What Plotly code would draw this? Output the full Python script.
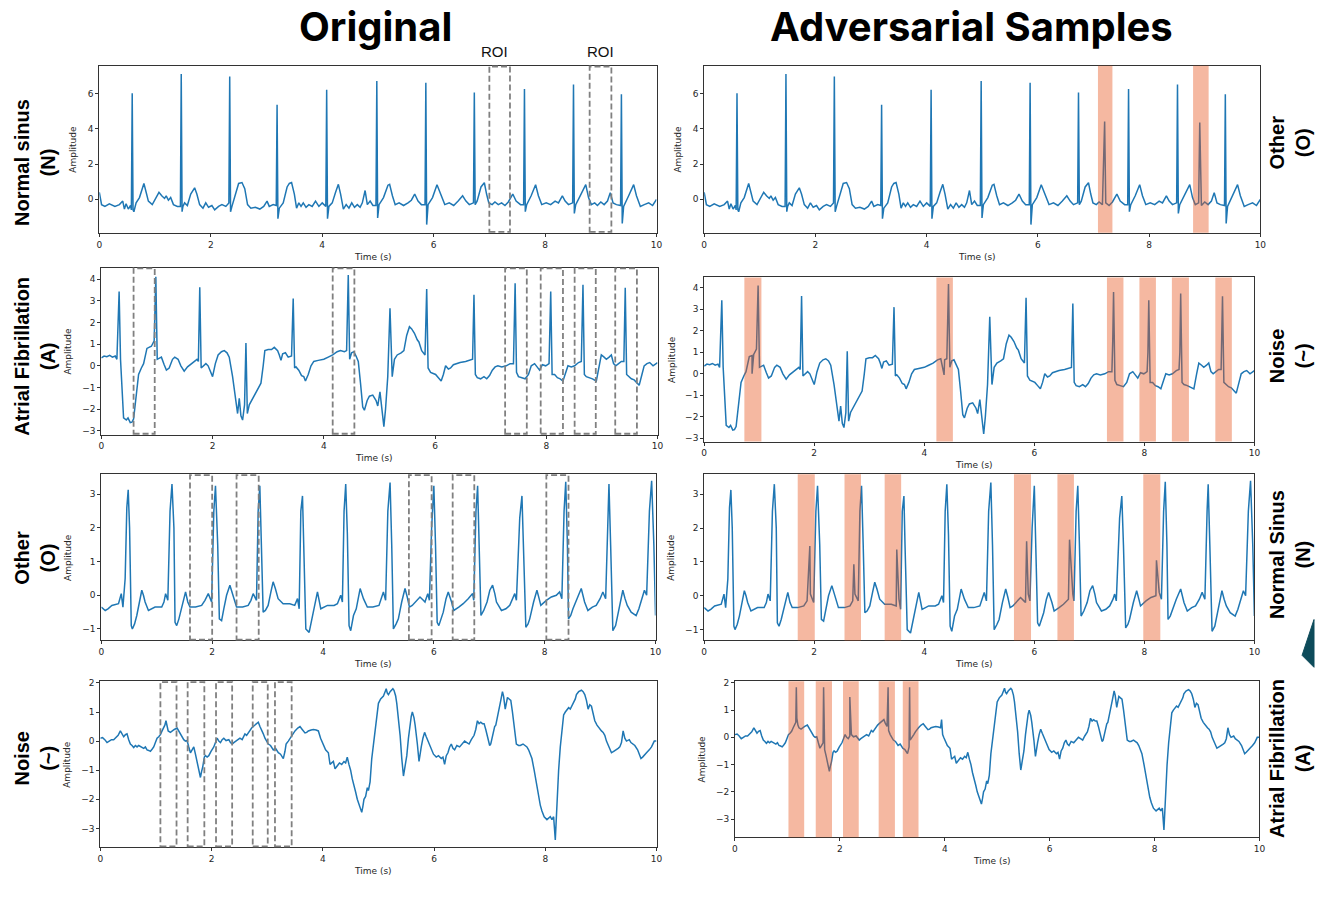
import plotly.graph_objects as go

W, H = 1320, 898

# ---------------- data (time s, amplitude) ----------------
normal_sinus = [
    (0.00, 0.40), (0.04, -0.30), (0.10, -0.40), (0.18, -0.25), (0.28, -0.40), (0.36, -0.30), (0.42, -0.10), (0.45, -0.55),
    (0.48, -0.25), (0.52, -0.55), (0.56, -0.35), (0.575, -0.60), (0.59, 6.0), (0.605, -0.60), (0.62, -0.70), (0.66, -0.20),
    (0.72, 0.10), (0.80, 0.90), (0.84, 0.40), (0.88, -0.10), (0.95, -0.30), (1.02, 0.10), (1.07, 0.40), (1.12, 0.20),
    (1.17, 0.05), (1.20, 0.20), (1.24, -0.05), (1.28, 0.10), (1.33, -0.30), (1.40, -0.40), (1.455, -0.40), (1.47, 7.1),
    (1.485, -0.70), (1.50, -0.40), (1.53, -0.20), (1.58, -0.35), (1.64, 0.30), (1.71, 0.65), (1.75, 0.30), (1.80, -0.30),
    (1.86, -0.50), (1.91, -0.20), (1.96, -0.45), (2.02, -0.35), (2.07, -0.60), (2.14, -0.40), (2.20, -0.30), (2.27, -0.40),
    (2.325, -0.20), (2.34, 6.95), (2.355, -0.70), (2.38, -0.40), (2.44, 0.20), (2.50, 0.90), (2.56, 0.95), (2.61, 0.60),
    (2.66, -0.30), (2.72, -0.50), (2.80, -0.45), (2.88, -0.55), (2.95, -0.40), (3.01, -0.10), (3.05, -0.40), (3.12, -0.30),
    (3.175, -0.35), (3.19, 5.35), (3.205, -1.10), (3.23, -0.50), (3.30, -0.20), (3.37, 0.70), (3.41, 0.90), (3.45, 0.95),
    (3.50, 0.30), (3.54, -0.50), (3.58, -0.20), (3.62, -0.40), (3.66, -0.20), (3.71, -0.45), (3.76, -0.30), (3.82, -0.40),
    (3.88, -0.10), (3.94, -0.40), (4.00, -0.20), (4.065, -0.40), (4.08, 6.2), (4.095, -1.10), (4.12, -0.40), (4.18, -0.20),
    (4.24, 0.40), (4.29, 0.85), (4.33, 0.30), (4.38, -0.55), (4.43, -0.30), (4.48, -0.50), (4.53, -0.20), (4.58, -0.45),
    (4.63, -0.30), (4.68, -0.45), (4.72, -0.20), (4.77, 0.50), (4.81, -0.30), (4.86, -0.10), (4.91, -0.35), (4.965, -0.35),
    (4.98, 6.7), (4.995, -1.05), (5.02, -0.30), (5.10, 0.10), (5.18, 0.80), (5.21, 0.85), (5.26, 0.20), (5.31, -0.30),
    (5.38, -0.20), (5.46, -0.35), (5.54, -0.20), (5.60, -0.05), (5.66, 0.30), (5.72, -0.10), (5.78, -0.30), (5.845, -0.30),
    (5.86, 6.6), (5.875, -1.43), (5.90, -0.30), (5.98, 0.10), (6.06, 0.83), (6.12, 0.30), (6.20, -0.30), (6.28, -0.20),
    (6.36, -0.35), (6.44, -0.10), (6.52, 0.20), (6.58, -0.10), (6.64, -0.30), (6.715, -0.20), (6.73, 6.05), (6.745, -0.30),
    (6.78, -0.10), (6.85, 0.70), (6.91, 0.94), (6.95, 0.30), (6.99, -0.20), (7.05, -0.30), (7.10, -0.15), (7.16, -0.30),
    (7.22, -0.20), (7.28, -0.35), (7.34, -0.15), (7.42, 0.30), (7.48, -0.10), (7.56, -0.30), (7.615, -0.30), (7.63, 6.25),
    (7.645, -0.70), (7.67, -0.30), (7.75, 0.20), (7.83, 0.83), (7.88, 0.20), (7.94, -0.30), (8.02, -0.20), (8.10, -0.30),
    (8.18, -0.10), (8.24, -0.20), (8.31, 0.20), (8.36, -0.10), (8.42, -0.30), (8.495, -0.20), (8.51, 6.5), (8.525, -0.80),
    (8.55, -0.30), (8.63, 0.20), (8.73, 0.83), (8.78, 0.10), (8.83, -0.30), (8.89, -0.20), (8.94, -0.35), (9.00, -0.15),
    (9.06, -0.30), (9.12, -0.10), (9.17, 0.38), (9.22, -0.20), (9.28, -0.30), (9.355, -0.35), (9.37, 5.95), (9.385, -1.37),
    (9.41, -0.40), (9.50, 0.20), (9.59, 0.83), (9.64, 0.20), (9.71, -0.40), (9.78, -0.30), (9.86, -0.20), (9.93, -0.35),
    (10.0, 0.00),
]

atrial_fib = [
    (0.00, 0.36), (0.05, 0.45), (0.10, 0.42), (0.15, 0.48), (0.20, 0.40), (0.25, 0.45), (0.28, 0.30), (0.32, 3.42),
    (0.345, 0.30), (0.37, -1.00), (0.40, -2.40), (0.45, -2.50), (0.48, -2.40), (0.52, -2.62), (0.55, -2.60), (0.58, -2.45),
    (0.61, -1.80), (0.64, -1.00), (0.67, -0.40), (0.72, -0.10), (0.76, 0.10), (0.82, 0.80), (0.87, 0.85), (0.90, 0.90),
    (0.95, 1.15), (0.98, 4.10), (1.005, 0.30), (1.04, 0.35), (1.08, 0.40), (1.13, 0.05), (1.17, -0.20), (1.22, -0.10),
    (1.28, 0.30), (1.32, 0.40), (1.38, 0.30), (1.43, 0.00), (1.49, -0.25), (1.55, -0.05), (1.62, 0.10), (1.68, 0.20),
    (1.72, 0.30), (1.745, 0.20), (1.77, 3.62), (1.795, -0.10), (1.83, 0.00), (1.88, 0.10), (1.92, 0.00), (1.96, -0.30),
    (2.00, -0.50), (2.05, 0.10), (2.10, 0.50), (2.16, 0.65), (2.21, 0.70), (2.26, 0.60), (2.30, 0.40), (2.36, -0.50),
    (2.41, -1.50), (2.45, -2.20), (2.48, -1.50), (2.51, -2.30), (2.54, -2.50), (2.575, -1.80), (2.60, 1.05), (2.625, -2.20),
    (2.66, -1.80), (2.72, -1.50), (2.80, -1.10), (2.87, -0.80), (2.91, 0.00), (2.94, 0.70), (3.00, 0.75), (3.06, 0.75),
    (3.11, 0.85), (3.17, 0.70), (3.20, 0.50), (3.23, 0.25), (3.26, 0.55), (3.31, 0.60), (3.36, 0.40), (3.42, 0.45),
    (3.45, 3.10), (3.475, -0.10), (3.50, -0.05), (3.55, -0.20), (3.60, -0.45), (3.64, -0.50), (3.67, -0.70), (3.72, -0.40),
    (3.77, 0.00), (3.82, 0.20), (3.90, 0.25), (4.00, 0.30), (4.08, 0.40), (4.16, 0.50), (4.24, 0.65), (4.30, 0.70),
    (4.37, 0.65), (4.41, 0.70), (4.44, 4.18), (4.465, 0.30), (4.50, 0.60), (4.54, 0.65), (4.58, 0.45), (4.62, 0.20),
    (4.66, -0.80), (4.70, -1.90), (4.73, -2.05), (4.78, -1.60), (4.82, -1.40), (4.88, -1.35), (4.94, -1.60), (4.97, -1.85),
    (5.01, -1.20), (5.05, -2.20), (5.08, -2.80), (5.11, -2.00), (5.15, -0.50), (5.19, 2.65), (5.23, -0.50), (5.27, 0.30),
    (5.32, 0.50), (5.39, 0.60), (5.44, 0.70), (5.49, 1.40), (5.54, 1.80), (5.58, 1.70), (5.63, 1.50), (5.68, 1.20),
    (5.71, 1.10), (5.76, 0.70), (5.82, 0.50), (5.85, 3.54), (5.875, -0.10), (5.92, -0.30), (5.97, -0.35), (6.01, -0.40),
    (6.06, -0.55), (6.11, -0.70), (6.15, -0.40), (6.19, 0.00), (6.24, -0.15), (6.28, -0.10), (6.33, 0.05), (6.38, 0.10),
    (6.45, 0.15), (6.55, 0.20), (6.62, 0.25), (6.675, 0.30), (6.70, 3.27), (6.725, -0.40), (6.76, -0.55), (6.82, -0.60),
    (6.88, -0.50), (6.93, -0.60), (6.98, -0.45), (7.03, -0.20), (7.08, -0.05), (7.13, 0.00), (7.20, -0.05), (7.28, 0.00),
    (7.35, 0.10), (7.41, 0.10), (7.44, 3.80), (7.465, -0.30), (7.50, -0.50), (7.56, -0.55), (7.62, -0.60), (7.68, -0.40),
    (7.73, 0.00), (7.79, 0.10), (7.84, -0.10), (7.88, -0.20), (7.93, 0.05), (7.99, 0.00), (8.05, 0.10), (8.08, 3.42),
    (8.105, -0.40), (8.15, -0.40), (8.20, -0.55), (8.25, -0.60), (8.30, -0.70), (8.35, -0.30), (8.39, 0.00), (8.45, -0.05),
    (8.51, 0.00), (8.58, 0.15), (8.63, 0.20), (8.66, 3.73), (8.685, -0.40), (8.72, -0.50), (8.78, -0.55), (8.83, -0.60),
    (8.90, -0.70), (8.95, 0.00), (8.99, 0.50), (9.04, 0.40), (9.08, 0.30), (9.13, 0.40), (9.17, 0.50), (9.21, 0.10),
    (9.25, 0.00), (9.30, 0.10), (9.35, 0.20), (9.395, 0.20), (9.42, 3.60), (9.445, -0.40), (9.48, -0.50), (9.53, -0.60),
    (9.58, -0.65), (9.62, -0.75), (9.67, -0.90), (9.72, -0.40), (9.76, 0.00), (9.81, 0.10), (9.86, 0.15), (9.92, 0.00),
    (9.97, 0.10), (10.0, 0.15),
]

other_rhythm = [
    (0.00, -0.35), (0.07, -0.45), (0.12, -0.40), (0.19, -0.30), (0.31, -0.25), (0.36, 0.05), (0.39, -0.35), (0.43, 0.50),
    (0.46, 2.60), (0.485, 3.13), (0.51, 2.00), (0.54, -0.90), (0.56, -1.00), (0.60, -0.85), (0.64, -0.60), (0.68, -0.30),
    (0.73, 0.15), (0.76, 0.00), (0.79, -0.20), (0.85, -0.45), (0.90, -0.40), (0.97, -0.35), (1.03, -0.35), (1.09, -0.35),
    (1.13, -0.20), (1.16, 0.05), (1.20, -0.15), (1.24, 2.50), (1.275, 3.30), (1.31, 2.00), (1.33, -0.80), (1.36, -0.90),
    (1.40, -0.70), (1.45, -0.40), (1.52, 0.10), (1.56, -0.20), (1.60, -0.35), (1.70, -0.35), (1.81, -0.30), (1.87, -0.15),
    (1.93, 0.05), (1.99, -0.20), (2.03, 2.50), (2.06, 3.25), (2.10, 1.50), (2.13, -0.70), (2.17, -0.75), (2.21, -0.40),
    (2.26, 0.00), (2.32, 0.30), (2.38, 0.00), (2.44, -0.35), (2.55, -0.35), (2.65, -0.30), (2.70, -0.15), (2.74, 0.05),
    (2.80, -0.15), (2.83, 2.50), (2.86, 3.25), (2.89, 1.50), (2.92, -0.50), (2.96, -0.45), (3.01, -0.30), (3.06, 0.10),
    (3.10, 0.40), (3.14, 0.20), (3.19, -0.10), (3.28, -0.25), (3.40, -0.25), (3.49, -0.30), (3.54, -0.10), (3.57, -0.40),
    (3.60, 2.50), (3.63, 2.95), (3.65, 1.50), (3.69, -1.00), (3.75, -1.10), (3.79, -0.80), (3.83, -0.50), (3.87, -0.10),
    (3.90, 0.10), (3.96, -0.40), (4.02, -0.35), (4.08, -0.30), (4.20, -0.30), (4.26, -0.25), (4.32, 0.00), (4.35, -0.20),
    (4.38, 2.50), (4.41, 3.30), (4.44, 1.80), (4.47, -0.90), (4.50, -1.05), (4.55, -0.60), (4.60, -0.40), (4.67, 0.20),
    (4.73, -0.10), (4.80, -0.35), (4.90, -0.35), (5.01, -0.30), (5.09, 0.10), (5.13, -0.15), (5.17, 2.50), (5.21, 3.35),
    (5.24, 1.50), (5.27, -1.00), (5.32, -0.85), (5.36, -0.70), (5.42, -0.20), (5.48, 0.20), (5.52, -0.05), (5.56, -0.35),
    (5.61, -0.30), (5.66, -0.20), (5.75, -0.05), (5.81, -0.15), (5.84, -0.20), (5.89, 0.05), (5.92, -0.15), (5.96, 2.00),
    (6.00, 3.25), (6.03, 1.50), (6.06, -0.80), (6.09, -0.90), (6.13, -0.70), (6.17, -0.50), (6.22, -0.10), (6.26, 0.10),
    (6.32, -0.20), (6.36, -0.45), (6.45, -0.35), (6.53, -0.25), (6.62, -0.10), (6.70, 0.05), (6.72, -0.15), (6.76, 2.50),
    (6.79, 3.25), (6.82, 1.50), (6.85, -0.60), (6.90, -0.45), (6.96, -0.20), (7.01, 0.15), (7.06, 0.30), (7.10, 0.05),
    (7.13, -0.20), (7.22, -0.45), (7.30, -0.40), (7.37, -0.30), (7.43, -0.10), (7.46, 0.05), (7.49, -0.15), (7.55, 2.30),
    (7.59, 2.95), (7.62, 1.50), (7.66, -0.95), (7.70, -0.85), (7.73, -0.70), (7.80, -0.20), (7.86, 0.15), (7.90, -0.10),
    (7.93, -0.30), (8.03, -0.15), (8.12, -0.05), (8.21, 0.00), (8.27, 0.10), (8.31, -0.10), (8.35, 2.50), (8.38, 3.37),
    (8.41, 1.50), (8.43, -0.70), (8.47, -0.60), (8.51, -0.40), (8.58, -0.10), (8.66, 0.20), (8.72, -0.20), (8.78, -0.45),
    (8.86, -0.35), (8.93, -0.30), (9.00, -0.10), (9.05, 0.10), (9.10, -0.10), (9.14, 2.50), (9.16, 3.30), (9.19, 1.50),
    (9.23, -1.05), (9.28, -0.90), (9.32, -0.60), (9.37, -0.20), (9.41, 0.15), (9.45, -0.10), (9.49, -0.30), (9.56, -0.50),
    (9.65, -0.60), (9.70, -0.40), (9.74, -0.20), (9.80, 0.15), (9.84, 0.00), (9.89, 2.50), (9.93, 3.40), (9.97, 1.50),
    (10.0, -0.60),
]

noise_signal = [
    (0.00, 0.10), (0.04, 0.12), (0.08, 0.05), (0.12, -0.05), (0.16, 0.00), (0.20, 0.05), (0.24, 0.05), (0.28, 0.12),
    (0.32, 0.20), (0.36, 0.35), (0.39, 0.25), (0.42, 0.15), (0.45, 0.22), (0.48, 0.25), (0.51, 0.05), (0.54, -0.10),
    (0.57, -0.15), (0.60, -0.22), (0.63, -0.15), (0.66, -0.20), (0.69, -0.15), (0.72, -0.18), (0.75, -0.22), (0.78, -0.25),
    (0.81, -0.20), (0.84, -0.30), (0.87, -0.32), (0.90, -0.35), (0.93, -0.28), (0.96, -0.20), (0.99, -0.05), (1.02, 0.10),
    (1.05, 0.15), (1.08, 0.22), (1.11, 0.35), (1.14, 0.45), (1.16, 0.55), (1.18, 0.70), (1.20, 0.45), (1.22, 0.35),
    (1.26, 0.30), (1.29, 0.35), (1.33, 0.40), (1.38, 0.45), (1.41, 0.35), (1.44, 0.20), (1.47, 0.15), (1.50, 0.05),
    (1.53, 0.00), (1.56, 0.02), (1.59, -0.20), (1.62, -0.40), (1.65, -0.30), (1.68, -0.20), (1.71, -0.45), (1.74, -0.70),
    (1.77, -1.00), (1.80, -1.25), (1.82, -1.05), (1.84, -0.90), (1.87, -0.55), (1.89, -0.50), (1.92, -0.55), (1.95, -0.50),
    (1.99, -0.35), (2.04, -0.20), (2.07, -0.05), (2.10, 0.10), (2.13, 0.00), (2.16, -0.05), (2.19, 0.05), (2.22, 0.10),
    (2.26, 0.02), (2.31, 0.05), (2.34, -0.05), (2.37, -0.10), (2.40, -0.05), (2.43, 0.00), (2.47, 0.05), (2.51, 0.10),
    (2.55, 0.05), (2.60, 0.25), (2.63, 0.20), (2.66, 0.30), (2.69, 0.38), (2.72, 0.45), (2.76, 0.52), (2.80, 0.58),
    (2.84, 0.65), (2.87, 0.50), (2.90, 0.40), (2.93, 0.25), (2.96, 0.10), (2.99, 0.00), (3.02, -0.10), (3.06, -0.15),
    (3.11, -0.30), (3.15, -0.25), (3.20, -0.40), (3.24, -0.45), (3.29, -0.60), (3.32, -0.35), (3.34, -0.10), (3.38, 0.00),
    (3.41, 0.10), (3.44, 0.20), (3.47, 0.30), (3.50, 0.35), (3.55, 0.45), (3.59, 0.50), (3.63, 0.40), (3.68, 0.28),
    (3.71, 0.30), (3.74, 0.35), (3.79, 0.38), (3.83, 0.40), (3.88, 0.38), (3.92, 0.35), (3.96, 0.10), (3.98, 0.00),
    (4.02, -0.20), (4.05, -0.30), (4.10, -0.40), (4.13, -0.80), (4.16, -0.75), (4.19, -0.70), (4.22, -0.95), (4.26, -0.85),
    (4.30, -0.75), (4.34, -0.80), (4.38, -0.70), (4.41, -0.75), (4.44, -0.55), (4.47, -0.80), (4.50, -1.00), (4.53, -1.30),
    (4.56, -1.50), (4.59, -1.75), (4.62, -2.00), (4.65, -2.20), (4.68, -2.40), (4.70, -2.45), (4.72, -2.25), (4.74, -2.00),
    (4.77, -1.90), (4.80, -1.60), (4.82, -1.70), (4.85, -1.40), (4.88, -0.60), (4.91, -0.10), (4.94, 0.50), (4.97, 0.90),
    (5.00, 1.30), (5.04, 1.45), (5.09, 1.55), (5.12, 1.70), (5.14, 1.80), (5.16, 1.65), (5.18, 1.60), (5.21, 1.70),
    (5.24, 1.75), (5.26, 1.80), (5.28, 1.75), (5.31, 1.55), (5.33, 1.30), (5.36, 0.80), (5.39, 0.20), (5.42, -0.60),
    (5.45, -1.20), (5.48, -0.85), (5.51, -0.50), (5.54, 0.10), (5.57, 0.60), (5.59, 0.85), (5.61, 1.00), (5.64, 0.80),
    (5.66, 0.55), (5.68, 0.10), (5.70, -0.10), (5.73, -0.70), (5.75, -0.40), (5.77, -0.20), (5.80, 0.10), (5.83, 0.30),
    (5.86, 0.15), (5.89, 0.00), (5.92, -0.10), (5.95, -0.30), (5.99, -0.45), (6.04, -0.55), (6.08, -0.50), (6.13, -0.60),
    (6.16, -0.55), (6.19, -0.80), (6.22, -0.50), (6.25, -0.40), (6.28, -0.20), (6.31, -0.10), (6.34, -0.25), (6.37, -0.30),
    (6.41, -0.15), (6.46, -0.20), (6.50, -0.10), (6.55, 0.00), (6.59, -0.05), (6.63, -0.10), (6.67, 0.05), (6.72, 0.20),
    (6.75, 0.40), (6.78, 0.70), (6.81, 0.60), (6.84, 0.65), (6.87, 0.60), (6.90, 0.60), (6.93, 0.40), (6.96, 0.20),
    (6.98, 0.00), (7.00, -0.15), (7.02, -0.10), (7.06, 0.30), (7.09, 0.50), (7.11, 0.55), (7.14, 0.80), (7.17, 1.10),
    (7.20, 1.40), (7.23, 1.70), (7.25, 1.55), (7.28, 1.10), (7.30, 1.40), (7.32, 1.50), (7.35, 1.45), (7.38, 1.40),
    (7.41, 1.00), (7.44, 0.60), (7.46, 0.20), (7.48, -0.10), (7.52, -0.15), (7.55, -0.15), (7.60, -0.10), (7.64, -0.15),
    (7.67, -0.20), (7.70, -0.30), (7.73, -0.45), (7.76, -0.60), (7.80, -1.00), (7.85, -1.60), (7.88, -1.90), (7.91, -2.20),
    (7.94, -2.40), (7.98, -2.60), (8.03, -2.70), (8.06, -2.65), (8.09, -2.60), (8.12, -2.70), (8.15, -2.60), (8.18, -3.40),
    (8.21, -2.00), (8.24, -1.00), (8.27, -0.20), (8.30, 0.40), (8.33, 0.90), (8.36, 1.00), (8.39, 1.10), (8.42, 1.15),
    (8.45, 1.10), (8.48, 1.20), (8.51, 1.30), (8.54, 1.45), (8.56, 1.60), (8.60, 1.70), (8.65, 1.75), (8.68, 1.70),
    (8.71, 1.60), (8.74, 1.40), (8.77, 1.10), (8.80, 1.25), (8.83, 1.20), (8.86, 0.90), (8.89, 0.70), (8.93, 0.55),
    (8.98, 0.40), (9.01, 0.35), (9.04, 0.30), (9.07, 0.20), (9.10, 0.00), (9.14, -0.20), (9.19, -0.40), (9.23, -0.35),
    (9.28, -0.30), (9.31, -0.25), (9.34, -0.20), (9.37, -0.05), (9.40, 0.35), (9.43, 0.10), (9.46, 0.00), (9.49, 0.05),
    (9.51, 0.05), (9.54, -0.05), (9.57, -0.10), (9.61, -0.15), (9.66, -0.30), (9.69, -0.45), (9.72, -0.60), (9.75, -0.55),
    (9.78, -0.50), (9.82, -0.40), (9.87, -0.30), (9.91, -0.20), (9.96, 0.00), (10.0, 0.00),
]

# adversarial perturbation samples (spikes inserted into the original signal)
adv_points_1 = [(7.20, 4.40), (8.91, 4.35)]
adv_points_2 = [(0.87, 0.00), (4.36, -0.05), (7.425, 1.50), (8.065, 1.00), (8.645, 1.00), (9.405, 1.10)]
adv_points_3 = [(1.92, 1.47), (2.72, 0.93), (3.50, 1.37), (5.86, 1.61), (6.64, 1.66), (8.22, 1.05)]
adv_points_4 = [(1.17, 1.84), (1.69, 1.84), (2.19, 1.48), (2.92, 1.84), (3.33, 1.84), (3.94, 0.65)]

# regions of interest (s)
roi_1 = [(7.0, 7.37), (8.8, 9.19)]
roi_2 = [(0.58, 0.96), (4.16, 4.55), (7.26, 7.65), (7.90, 8.30), (8.51, 8.89), (9.24, 9.63)]
roi_3 = [(1.60, 2.0), (2.44, 2.84), (5.55, 5.96), (6.34, 6.73), (8.03, 8.43)]
roi_4 = [(1.08, 1.37), (1.57, 1.87), (2.08, 2.37), (2.74, 3.01), (3.14, 3.44)]

hl_1 = [(7.08, 7.34), (8.79, 9.07)]
hl_2 = [(0.73, 1.04), (4.22, 4.52), (7.32, 7.62), (7.91, 8.21), (8.50, 8.81), (9.29, 9.59)]
hl_3 = [(1.70, 2.01), (2.55, 2.85), (3.28, 3.58), (5.63, 5.94), (6.42, 6.72), (7.98, 8.29)]
hl_4 = [(1.02, 1.32), (1.54, 1.85), (2.06, 2.36), (2.74, 3.05), (3.20, 3.50)]

left_labels = ["Normal sinus<br>(N)", "Atrial Fibrillation<br>(A)", "Other<br>(O)", "Noise<br>(~)"]
right_labels = ["Other<br>(O)", "Noise<br>(~)", "Normal Sinus<br>(N)", "Atrial Fibrillation<br>(A)"]
col_titles = ["Original", "Adversarial Samples"]

# ---------------- layout geometry (pixels) ----------------
# (x0, x1, ytop, ybottom, yrange, dtick)
panels = [
    (97, 658, 63, 231, [-1.89, 7.57], 2),
    (706, 1266, 63, 231, [-1.89, 7.57], 2),
    (99, 659, 266, 434, [-3.17, 4.53], 1),
    (706, 1260, 276, 441, [-3.15, 4.48], 1),
    (99, 657, 474, 641, [-1.34, 3.59], 1),
    (706, 1260, 474, 641, [-1.32, 3.59], 1),
    (98, 658, 682, 849, [-3.65, 2.06], 1),
    (737, 1265, 682, 839, [-3.67, 2.06], 1),
]


def px(x):
    return x / W


def py(y):
    return 1 - y / H


def merge(base, extra):
    return sorted(base + extra, key=lambda p: p[0])


signals = [
    normal_sinus, merge(normal_sinus, adv_points_1),
    atrial_fib, merge(atrial_fib, adv_points_2),
    other_rhythm, merge(other_rhythm, adv_points_3),
    noise_signal, merge(noise_signal, adv_points_4),
]
rois = [roi_1, roi_2, roi_3, roi_4]
hls = [hl_1, hl_2, hl_3, hl_4]

fig = go.Figure()
layout = dict(
    width=W, height=H, margin=dict(l=0, r=0, t=0, b=0),
    paper_bgcolor="white", plot_bgcolor="white", showlegend=False,
)
shapes = []
annotations = []
tick_font = dict(family="DejaVu Sans", size=9, color="#262626")

for i, (sig, (x0, x1, yt, yb, yr, dt)) in enumerate(zip(signals, panels), start=1):
    sfx = "" if i == 1 else str(i)
    xs = [p[0] for p in sig]
    ys = [p[1] for p in sig]
    fig.add_trace(go.Scatter(x=xs, y=ys, mode="lines", xaxis=f"x{sfx}", yaxis=f"y{sfx}",
                             line=dict(color="#1f77b4", width=1.5), hoverinfo="skip"))
    common = dict(showline=True, mirror=True, linecolor="#333333", linewidth=1, ticks="outside",
                  ticklen=3, tickwidth=0.8, tickcolor="#333333", showgrid=False, zeroline=False,
                  tickfont=tick_font)
    layout[f"xaxis{sfx}"] = dict(domain=[px(x0), px(x1)], range=[0, 10], dtick=2, tick0=0,
                                 anchor=f"y{sfx}", **common)
    layout[f"yaxis{sfx}"] = dict(domain=[py(yb), py(yt)], range=yr, dtick=dt, tick0=0,
                                 anchor=f"x{sfx}", **common)
    annotations.append(dict(text="Time (s)", x=px((x0 + x1) / 2 - 5), y=py(yb + 24), xref="paper", yref="paper",
                            showarrow=False, font=dict(family="DejaVu Sans", size=9, color="#262626"),
                            xanchor="center", yanchor="middle"))
    annotations.append(dict(text="Amplitude", x=px(x0 - (26 if dt == 2 else 33)), y=py((yt + yb) / 2),
                            xref="paper", yref="paper", showarrow=False, textangle=-90,
                            font=dict(family="DejaVu Sans", size=9, color="#262626"),
                            xanchor="center", yanchor="middle"))
    row = (i - 1) // 2
    if i % 2 == 1:
        for a, b in rois[row]:
            shapes.append(dict(type="rect", xref=f"x{sfx}", yref=f"y{sfx} domain", x0=a, x1=b, y0=0.005, y1=0.995,
                               line=dict(color="#808080", width=1.8, dash="6px,3px"),
                               fillcolor="rgba(0,0,0,0)", layer="above"))
    else:
        for a, b in hls[row]:
            shapes.append(dict(type="rect", xref=f"x{sfx}", yref=f"y{sfx} domain", x0=a, x1=b, y0=0, y1=1,
                               line=dict(width=0), fillcolor="rgba(232,85,30,0.42)", layer="above"))

# column titles
for txt, cx in zip(col_titles, [375, 975]):
    annotations.append(dict(text=f"<b>{txt}</b>", x=px(cx), y=py(24), xref="paper", yref="paper",
                            showarrow=False, font=dict(family="Inter, Lato, Arial", size=40, color="black",
                                                       weight=900),
                            xanchor="center", yanchor="middle"))
# ROI labels
for cx in [495, 602]:
    annotations.append(dict(text="ROI", x=px(cx), y=py(49), xref="paper", yref="paper", showarrow=False,
                            font=dict(family="Liberation Sans, Arial", size=15, color="#111111"),
                            xanchor="center", yanchor="middle"))
# row labels
row_centers = [160, 355, 558, 760]
right_centers = [140, 355, 555, 760]
for txt, cy in zip(left_labels, row_centers):
    annotations.append(dict(text=f"<b>{txt}</b>", x=px(32), y=py(cy), xref="paper", yref="paper",
                            showarrow=False, textangle=-90,
                            font=dict(family="Liberation Sans, Arial", size=20, color="black"),
                            xanchor="center", yanchor="middle"))
for txt, cy in zip(right_labels, right_centers):
    annotations.append(dict(text=f"<b>{txt}</b>", x=px(1296), y=py(cy), xref="paper", yref="paper",
                            showarrow=False, textangle=-90,
                            font=dict(family="Liberation Sans, Arial", size=20, color="black"),
                            xanchor="center", yanchor="middle"))

# decorative teal arrow fragment at right edge
shapes.append(dict(type="path", xref="paper", yref="paper",
                   path=f"M {px(1308)} {py(656)} L {px(1320)} {py(620)} L {px(1320)} {py(668)} Z",
                   fillcolor="#0d4b5a", line=dict(color="#0d4b5a", width=1)))

layout["shapes"] = shapes
layout["annotations"] = annotations
fig.update_layout(**layout)
fig.write_html("out.html")
